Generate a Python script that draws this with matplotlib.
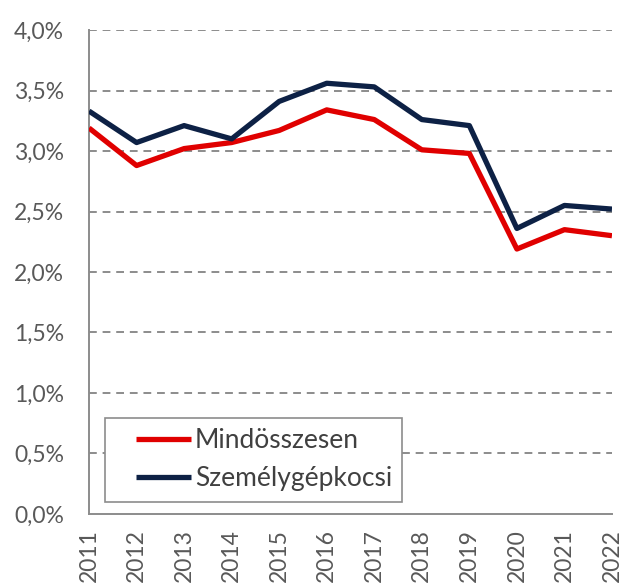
import matplotlib
matplotlib.use("Agg")
import matplotlib.pyplot as plt
from matplotlib.ticker import FuncFormatter
from matplotlib.patches import Rectangle

years = [2011, 2012, 2013, 2014, 2015, 2016, 2017, 2018, 2019, 2020, 2021, 2022]
mindosszesen = [3.19, 2.88, 3.02, 3.07, 3.17, 3.34, 3.26, 3.01, 2.98, 2.19, 2.35, 2.30]
szemelygepkocsi = [3.33, 3.07, 3.21, 3.10, 3.41, 3.56, 3.53, 3.26, 3.21, 2.36, 2.55, 2.52]
yticks = [0.0, 0.5, 1.0, 1.5, 2.0, 2.5, 3.0, 3.5, 4.0]

plt.rcParams['font.family'] = ['Lato', 'DejaVu Sans']

fig = plt.figure(figsize=(6.23, 5.83), dpi=100)
ax = fig.add_axes([0.1429, 0.1184, 0.8394, 0.8301])

ax.plot(years, mindosszesen, color='#E00000', lw=3.8, label='Mindösszesen', solid_capstyle='butt', zorder=3)
ax.plot(years, szemelygepkocsi, color='#0D2145', lw=3.8, label='Személygépkocsi', solid_capstyle='butt', zorder=3)

ax.set_xlim(2011, 2022)
ax.set_ylim(0, 4.0)
ax.set_yticks(yticks)
ax.yaxis.set_major_formatter(FuncFormatter(lambda v, p: f"{v:.1f}%".replace('.', ',')))
ax.set_xticks(years)
ax.set_xticklabels([str(y) for y in years], rotation=90, va='top')

for v in yticks[1:]:
    ax.axhline(v, color='#8C8C8C', lw=1.4, ls=(0, (4, 3)), zorder=1)

for s in ['top', 'right']:
    ax.spines[s].set_visible(False)
for s in ['left', 'bottom']:
    ax.spines[s].set_color('#8C8C8C')
    ax.spines[s].set_linewidth(1.4)

ax.tick_params(axis='both', length=0, labelsize=16.5, labelcolor='#595959')
ax.tick_params(axis='y', pad=18)
ax.tick_params(axis='x', pad=11)

# legend frame
frame = Rectangle((0.031, 0.025), 0.568, 0.174, transform=ax.transAxes,
                  facecolor='white', edgecolor='#8C8C8C', lw=1.2, zorder=4)
ax.add_patch(frame)
leg = ax.legend(loc='center left', bbox_to_anchor=(0.090, 0.112),
                borderaxespad=0, borderpad=0, fontsize=19, frameon=False,
                handlelength=2.08, handletextpad=0.15, labelspacing=0.5)
leg.set_zorder(5)
for t in leg.get_texts():
    t.set_color('#404040')

fig.savefig('out.png', dpi=100)
